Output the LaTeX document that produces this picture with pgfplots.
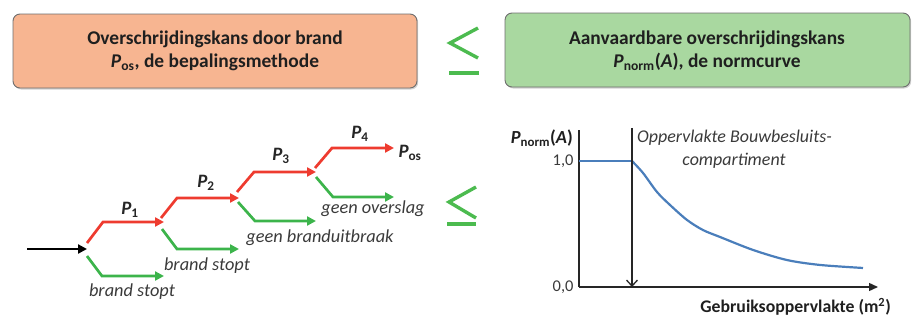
\documentclass[border=0pt]{standalone}
\usepackage{pgfplots}
\pgfplotsset{compat=1.18}
\usepackage{fontspec}
\setmainfont{Carlito}
\usetikzlibrary{arrows.meta,shadows}
\definecolor{boxred}{HTML}{F7B591}
\definecolor{boxgreen}{HTML}{A9D8A0}
\definecolor{boxedge}{HTML}{6E6E6E}
\definecolor{arrred}{HTML}{EE3B2F}
\definecolor{arrgreen}{HTML}{3CB44B}
\definecolor{leqgreen}{HTML}{4CBB4F}
\definecolor{curveblue}{HTML}{4A7EBB}
\definecolor{txtgray}{HTML}{3A3A3A}
\begin{document}
\begin{tikzpicture}
% ---------- canvas in pixel coordinates ----------
\begin{axis}[at={(0,0)}, anchor=south west, scale only axis,
  width=918bp, height=315bp, xmin=0, xmax=918, ymin=0, ymax=315,
  y dir=reverse, hide axis, clip=false]
\path (axis cs:0,0) rectangle (axis cs:918,315);
% boxes
\draw[rounded corners=7bp, fill=boxred, draw=boxedge, line width=0.9bp,
  drop shadow={opacity=0.35, shadow xshift=1.2bp, shadow yshift=-1.5bp}]
  (axis cs:13,14) rectangle (axis cs:417,88);
\draw[rounded corners=7bp, fill=boxgreen, draw=boxedge, line width=0.9bp,
  drop shadow={opacity=0.35, shadow xshift=1.2bp, shadow yshift=-1.5bp}]
  (axis cs:505,13) rectangle (axis cs:910,87);
\node[font=\fontsize{19.5}{23}\selectfont\bfseries, align=center, text=black!88] at (axis cs:215,51)
  {Overschrijdingskans door brand\\\textit{P}\textsubscript{os}, de bepalingsmethode};
\node[font=\fontsize{19.5}{23}\selectfont\bfseries, align=center, text=black!88] at (axis cs:707,51)
  {Aanvaardbare overschrijdingskans\\\textit{P}\textsubscript{norm}(\textit{A}), de normcurve};
% leq signs (drawn)
\addplot[leqgreen, line width=3.4bp, line join=miter] coordinates {(478,28) (450,43) (478,58)};
\addplot[leqgreen, line width=3.4bp] coordinates {(449,73) (479,73)};
\addplot[leqgreen, line width=3.4bp, line join=miter] coordinates {(476,187) (449,202) (476,218)};
\addplot[leqgreen, line width=3.4bp] coordinates {(447,224) (476,224)};
% event tree
\addplot[black, line width=2.8bp, -{Triangle[length=9bp,width=9bp]}] coordinates {(27,249) (87,249)};
% red branches
\addplot[arrred, line width=2.7bp, -{Triangle[length=9bp,width=9bp]}] coordinates {(87,243) (103,222) (164,222)};
\addplot[arrred, line width=2.7bp, -{Triangle[length=9bp,width=9bp]}] coordinates {(161,218) (177,198) (239,198)};
\addplot[arrred, line width=2.7bp, -{Triangle[length=9bp,width=9bp]}] coordinates {(237,192) (254,172) (316,172)};
\addplot[arrred, line width=2.7bp, -{Triangle[length=9bp,width=9bp]}] coordinates {(315,168) (332,148) (394,148)};
% green branches
\addplot[arrgreen, line width=2.7bp, -{Triangle[length=9bp,width=9bp]}] coordinates {(87,256) (102,276) (164,276)};
\addplot[arrgreen, line width=2.7bp, -{Triangle[length=9bp,width=9bp]}] coordinates {(162,229) (177,249) (239,249)};
\addplot[arrgreen, line width=2.7bp, -{Triangle[length=9bp,width=9bp]}] coordinates {(238,202) (255,221) (316,221)};
\addplot[arrgreen, line width=2.7bp, -{Triangle[length=9bp,width=9bp]}] coordinates {(316,177) (333,197) (394,197)};
% tree labels
\node[font=\fontsize{19}{19}\selectfont\bfseries\itshape, text=black!85] at (axis cs:130,210) {P\textsubscript{\upshape 1}};
\node[font=\fontsize{19}{19}\selectfont\bfseries\itshape, text=black!85] at (axis cs:206,183) {P\textsubscript{\upshape 2}};
\node[font=\fontsize{19}{19}\selectfont\bfseries\itshape, text=black!85] at (axis cs:281,156) {P\textsubscript{\upshape 3}};
\node[font=\fontsize{19}{19}\selectfont\bfseries\itshape, text=black!85] at (axis cs:360,134) {P\textsubscript{\upshape 4}};
\node[font=\fontsize{19}{19}\selectfont\bfseries\itshape, text=black!85] at (axis cs:410,153) {P\textsubscript{\upshape os}};
\node[font=\fontsize{18.4}{19}\selectfont\itshape, text=txtgray] at (axis cs:132,292) {brand stopt};
\node[font=\fontsize{18.4}{19}\selectfont\itshape, text=txtgray] at (axis cs:207,266) {brand stopt};
\node[font=\fontsize{18.4}{19}\selectfont\itshape, text=txtgray] at (axis cs:320,238) {geen branduitbraak};
\node[font=\fontsize{18.4}{19}\selectfont\itshape, text=txtgray] at (axis cs:373,209) {geen overslag};
% chart texts
\node[font=\fontsize{18.5}{19}\selectfont\bfseries, anchor=east, text=black!88, inner sep=0pt] at (axis cs:573,138)
  {\textit{P}\textsubscript{norm}(\textit{A})};
\node[font=\fontsize{18}{19}\selectfont\itshape, anchor=west, text=txtgray, inner sep=0pt] at (axis cs:637,138)
  {Oppervlakte Bouwbesluits-};
\node[font=\fontsize{18}{19}\selectfont\itshape, text=txtgray, inner sep=0pt] at (axis cs:734,161)
  {compartiment};
\node[font=\fontsize{17.8}{19}\selectfont\bfseries, anchor=east, text=black!88, inner sep=0pt] at (axis cs:891,307)
  {Gebruiksoppervlakte (m\textsuperscript{2})};
\end{axis}
% ---------- the normcurve chart ----------
\begin{axis}[at={(579bp,28bp)}, anchor=south west, scale only axis,
  width=299bp, height=157bp, xmin=0, xmax=299, ymin=0, ymax=1.246,
  axis lines=left, axis line style={line width=1.3bp, black!85},
  x axis line style={-{Triangle[length=9bp,width=8bp]}},
  y axis line style={-},
  xtick=\empty, ytick={0,1}, yticklabels={{0,0},{1,0}},
  major tick length=0pt,
  tick label style={font=\fontsize{16.5}{17}\selectfont, text=txtgray},
  yticklabel style={xshift=-2bp},
  clip=false]
\addplot[curveblue, line width=2.2bp] coordinates {(0,1.0) (53,1.0)};
\addplot[curveblue, line width=2.2bp, smooth, tension=0.5] coordinates {
  (53,1.0) (64,0.905) (78,0.754) (91,0.651) (108,0.532) (124,0.452)
  (141,0.397) (174,0.294) (208,0.214) (241,0.175) (284,0.151)};
\addplot[black!85, line width=1.3bp, -{Straight Barb[length=6bp,width=11bp]}] coordinates {(53,1.262) (53,0)};
\end{axis}
\end{tikzpicture}
\end{document}
